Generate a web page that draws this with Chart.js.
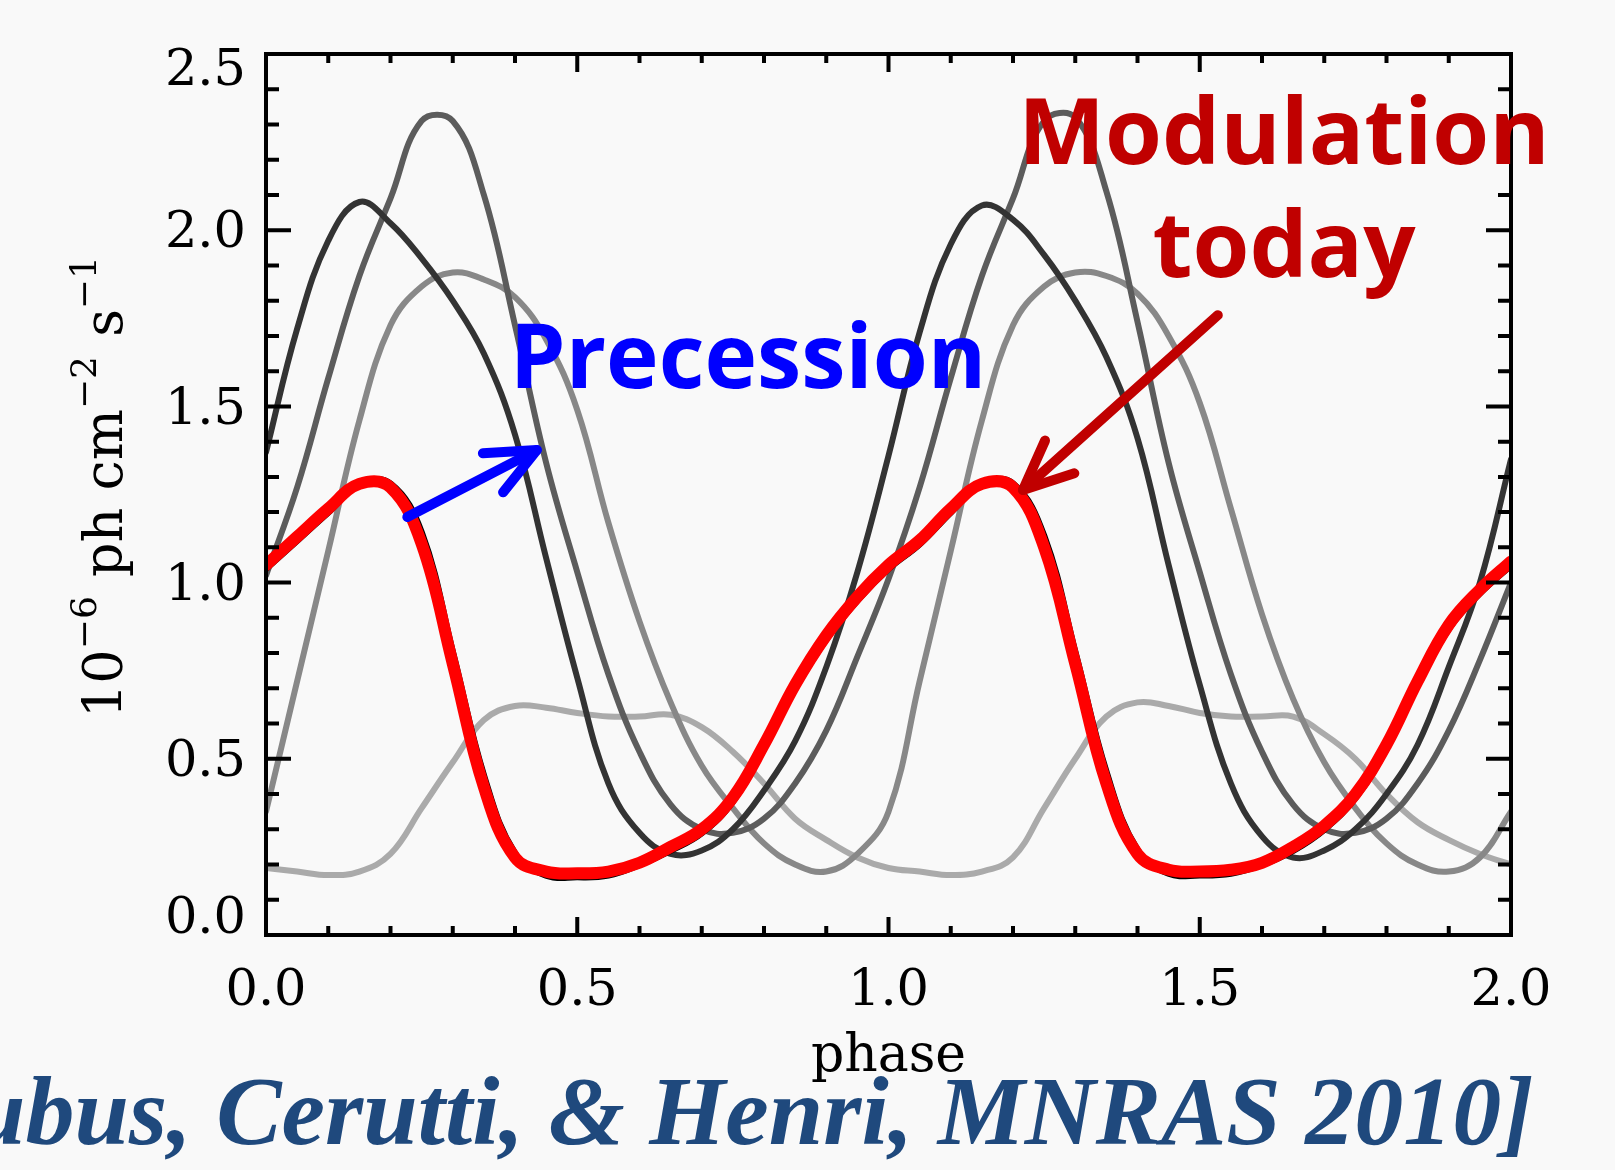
<!DOCTYPE html>
<html>
<head>
<meta charset="utf-8">
<script src="https://cdn.jsdelivr.net/npm/chart.js@4.4.1/dist/chart.umd.min.js"></script>
<style>
  html, body { margin: 0; padding: 0; background: #f9f9f9; overflow: hidden; }
  canvas { display: block; }
</style>
</head>
<body>
<canvas id="chart" width="1615" height="1170"></canvas>
<script>
/* phase-folded light curves, IDL look */

const PHASE = [0.00, 0.05, 0.10, 0.15, 0.20, 0.25, 0.30, 0.35, 0.40, 0.45,
  0.50, 0.55, 0.60, 0.65, 0.70, 0.75, 0.80, 0.85, 0.90, 0.95,
  1.00, 1.05, 1.10, 1.15, 1.20, 1.25, 1.30, 1.35, 1.40, 1.45,
  1.50, 1.55, 1.60, 1.65, 1.70, 1.75, 1.80, 1.85, 1.90, 1.95, 2.00];

// precession curves, darkest first
const CURVE_A = [1.37, 1.72, 1.97, 2.08, 2.02, 1.92, 1.80, 1.65, 1.42, 1.07,
  0.73, 0.43, 0.29, 0.23, 0.24, 0.30, 0.41, 0.55, 0.76, 1.03,
  1.36, 1.71, 1.96, 2.07, 2.03, 1.93, 1.80, 1.64, 1.41, 1.05,
  0.71, 0.43, 0.28, 0.22, 0.24, 0.30, 0.40, 0.54, 0.76, 1.00, 1.35];
const CURVE_B = [1.02, 1.27, 1.58, 1.87, 2.09, 2.31, 2.31, 2.10, 1.73, 1.34,
  1.03, 0.74, 0.52, 0.37, 0.30, 0.29, 0.33, 0.43, 0.58, 0.79,
  1.01, 1.27, 1.58, 1.87, 2.09, 2.31, 2.32, 2.11, 1.74, 1.34,
  1.03, 0.74, 0.52, 0.37, 0.30, 0.29, 0.33, 0.43, 0.58, 0.78, 1.00];
const CURVE_C = [0.35, 0.72, 1.09, 1.46, 1.73, 1.84, 1.88, 1.86, 1.81, 1.69,
  1.49, 1.17, 0.89, 0.66, 0.48, 0.36, 0.26, 0.20, 0.18, 0.23,
  0.35, 0.72, 1.09, 1.46, 1.73, 1.84, 1.88, 1.87, 1.82, 1.70,
  1.51, 1.21, 0.91, 0.67, 0.49, 0.36, 0.26, 0.20, 0.18, 0.22, 0.35];
const CURVE_D = [0.19, 0.18, 0.17, 0.18, 0.23, 0.36, 0.49, 0.61, 0.65, 0.645,
  0.63, 0.62, 0.62, 0.625, 0.59, 0.52, 0.43, 0.33, 0.27, 0.22,
  0.19, 0.18, 0.17, 0.18, 0.22, 0.36, 0.50, 0.62, 0.66, 0.65,
  0.63, 0.62, 0.62, 0.62, 0.57, 0.50, 0.40, 0.32, 0.27, 0.23, 0.20];
const CURVE_E = [1.04, 1.12, 1.20, 1.28, 1.28, 1.14, 0.80, 0.45, 0.23, 0.17,
  0.165, 0.17, 0.20, 0.24, 0.29, 0.38, 0.53, 0.70, 0.84, 0.95,
  1.04, 1.11, 1.20, 1.28, 1.28, 1.13, 0.80, 0.46, 0.24, 0.175,
  0.17, 0.175, 0.20, 0.24, 0.30, 0.39, 0.53, 0.71, 0.87, 0.97, 1.05];
// modulation today
const CURVE_TODAY = [1.05, 1.13, 1.21, 1.28, 1.27, 1.11, 0.77, 0.42, 0.22, 0.18,
  0.175, 0.18, 0.205, 0.25, 0.30, 0.39, 0.54, 0.71, 0.85, 0.96,
  1.05, 1.12, 1.21, 1.28, 1.27, 1.10, 0.77, 0.43, 0.23, 0.185,
  0.18, 0.185, 0.205, 0.25, 0.31, 0.40, 0.54, 0.72, 0.88, 0.98, 1.06];

const X_TICKS = [0.0, 0.5, 1.0, 1.5, 2.0];
const Y_TICKS = [0.0, 0.5, 1.0, 1.5, 2.0, 2.5];

// arrows: [phase, flux] of tail and tip
const BLUE_ARROW = [[0.227, 1.186], [0.435, 1.376]];
const RED_ARROW = [[1.529, 1.759], [1.216, 1.263]];

const SERIF = "'DejaVu Serif', serif";
const SANS = "'Open Sans', 'Noto Sans', sans-serif";

function points(ys) {
  return PHASE.map((p, i) => ({ x: p, y: ys[i] }));
}

function curve(ys, color, width, order) {
  return {
    data: points(ys),
    borderColor: color,
    borderWidth: width,
    pointRadius: 0,
    tension: 0.4,
    borderCapStyle: "round",
    borderJoinStyle: "round",
    order,
  };
}

function arrow(ctx, x, y, tail, tip, color) {
  const x0 = x.getPixelForValue(tail[0]), y0 = y.getPixelForValue(tail[1]);
  const x1 = x.getPixelForValue(tip[0]), y1 = y.getPixelForValue(tip[1]);
  const back = Math.atan2(y0 - y1, x0 - x1);
  const head = 54, spread = 24 * Math.PI / 180;
  ctx.save();
  ctx.strokeStyle = color;
  ctx.lineWidth = 10;
  ctx.lineCap = "round";
  ctx.lineJoin = "round";
  ctx.beginPath();
  ctx.moveTo(x0, y0);
  ctx.lineTo(x1, y1);
  ctx.stroke();
  ctx.beginPath();
  ctx.moveTo(x1 + head * Math.cos(back + spread), y1 + head * Math.sin(back + spread));
  ctx.lineTo(x1, y1);
  ctx.lineTo(x1 + head * Math.cos(back - spread), y1 + head * Math.sin(back - spread));
  ctx.stroke();
  ctx.restore();
}

function yTitle(ctx) {
  // 10^-6 ph cm^-2 s^-1, rotated
  const parts = [["10", false], ["\u22126", true], [" ph cm", false], ["\u22122", true], [" s", false], ["\u22121", true]];
  ctx.save();
  ctx.translate(122, 718);
  ctx.rotate(-Math.PI / 2);
  ctx.fillStyle = "#000";
  ctx.textAlign = "left";
  ctx.textBaseline = "alphabetic";
  let cx = 0;
  for (const [t, sup] of parts) {
    ctx.font = sup ? `36px ${SERIF}` : `54px ${SERIF}`;
    ctx.fillText(t, cx, sup ? -26 : 0);
    cx += ctx.measureText(t).width + (sup ? 2 : 0);
  }
  ctx.restore();
}

const idlFrame = {
  id: "idlFrame",
  beforeDraw(chart) {
    const ctx = chart.ctx;
    ctx.save();
    ctx.fillStyle = "#f9f9f9";
    ctx.fillRect(0, 0, chart.width, chart.height);
    ctx.restore();
  },
  afterDraw(chart) {
    const { ctx, chartArea: a, scales: { x, y } } = chart;
    ctx.save();
    ctx.strokeStyle = "#000";
    ctx.lineWidth = 4;
    ctx.lineCap = "butt";
    ctx.strokeRect(a.left, a.top, a.right - a.left, a.bottom - a.top);

    // minor ticks every 0.1, major every 0.5
    ctx.beginPath();
    for (let i = 1; i < 20; i++) {
      const px = x.getPixelForValue(i / 10);
      const len = i % 5 === 0 ? 18 : 9;
      ctx.moveTo(px, a.bottom); ctx.lineTo(px, a.bottom - len);
      ctx.moveTo(px, a.top); ctx.lineTo(px, a.top + len);
    }
    for (let i = 1; i < 25; i++) {
      const py = y.getPixelForValue(i / 10);
      const len = i % 5 === 0 ? 25 : 13;
      ctx.moveTo(a.left, py); ctx.lineTo(a.left + len, py);
      ctx.moveTo(a.right, py); ctx.lineTo(a.right - len, py);
    }
    ctx.stroke();

    ctx.fillStyle = "#000";
    ctx.font = `51px ${SERIF}`;
    ctx.textBaseline = "middle";
    ctx.textAlign = "center";
    for (const v of X_TICKS) ctx.fillText(v.toFixed(1), x.getPixelForValue(v), 992);
    ctx.textAlign = "right";
    for (const v of Y_TICKS) {
      let shift = 4;
      if (v === Y_TICKS[0]) shift = -15;
      if (v === Y_TICKS[Y_TICKS.length - 1]) shift = 18;
      ctx.fillText(v.toFixed(1), 246, y.getPixelForValue(v) + shift);
    }

    ctx.textAlign = "center";
    ctx.textBaseline = "alphabetic";
    ctx.font = `52px ${SERIF}`;
    ctx.fillText("phase", (a.left + a.right) / 2, 1071);
    ctx.restore();

    yTitle(ctx);

    arrow(ctx, x, y, BLUE_ARROW[0], BLUE_ARROW[1], "#0000ff");
    arrow(ctx, x, y, RED_ARROW[0], RED_ARROW[1], "#c00000");

    ctx.save();
    ctx.textAlign = "center";
    ctx.textBaseline = "alphabetic";
    ctx.fillStyle = "#0000ff";
    ctx.font = `bold 89px ${SANS}`;
    ctx.fillText("Precession", 748, 388);
    ctx.fillStyle = "#c00000";
    ctx.font = `bold 92px ${SANS}`;
    ctx.fillText("Modulation", 1284, 164);
    ctx.fillText("today", 1284, 277);

    ctx.font = "italic bold 98px 'Liberation Serif', serif";
    ctx.fillStyle = "#1f497d";
    ctx.textAlign = "right";
    ctx.fillText("[Dubus, Cerutti, & Henri, MNRAS 2010]", 1534, 1144);
    ctx.restore();
  },
};

new Chart(document.getElementById("chart"), {
  type: "line",
  data: {
    datasets: [
      curve(CURVE_TODAY, "#ff0000", 12, 0),
      curve(CURVE_E, "#000000", 7, 1),
      curve(CURVE_A, "#333333", 6, 2),
      curve(CURVE_B, "#5c5c5c", 6, 3),
      curve(CURVE_C, "#888888", 6, 4),
      curve(CURVE_D, "#aaaaaa", 6, 5),
    ],
  },
  options: {
    responsive: false,
    animation: false,
    layout: { padding: { left: 266, top: 54, right: 104, bottom: 235 } },
    scales: {
      x: { type: "linear", min: 0, max: 2, display: false },
      y: { type: "linear", min: 0, max: 2.5, display: false },
    },
    plugins: { legend: { display: false }, tooltip: { enabled: false } },
  },
  plugins: [idlFrame],
});
</script>
</body>
</html>
